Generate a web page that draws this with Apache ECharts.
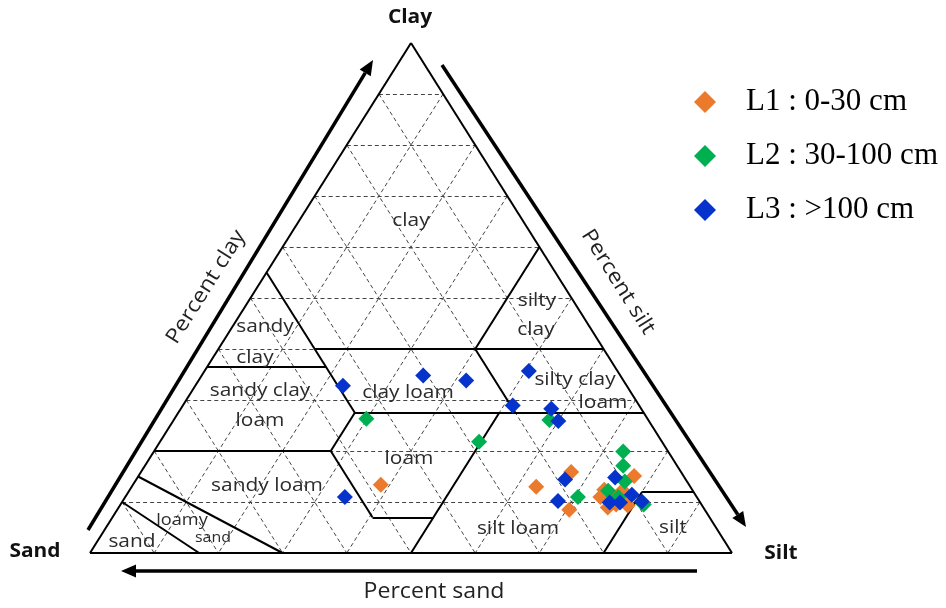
<!DOCTYPE html>
<html><head><meta charset="utf-8">
<script src="https://cdn.jsdelivr.net/npm/echarts@6/dist/echarts.min.js"></script>
<style>html,body{margin:0;padding:0;background:#fff}#c{width:946px;height:608px}</style>
</head><body><div id="c"></div>
<script>
// ---- Data (percent sand, silt, clay) ----
const seriesNames = ['L1 : 0-30 cm', 'L2 : 30-100 cm', 'L3 : >100 cm'];
const l1Sand = [48.0, 24.0, 17.1, 21.1, 7.7, 13.7, 11.5, 13.5, 15.0, 11.6, 14.9, 13.3, 10.8];
const l1Silt = [38.6, 63.0, 67.0, 70.4, 77.2, 73.9, 76.7, 75.5, 74.0, 79.1, 76.2, 77.2, 77.4];
const l1Clay = [13.4, 13.0, 15.9, 8.5, 15.1, 12.4, 11.8, 11.0, 11.0, 9.3, 8.9, 9.5, 11.8];

const l2Sand = [43.8, 28.5, 15.4, 18.5, 7.0, 8.4, 9.7, 13.2, 9.0, 12.2];
const l2Silt = [29.9, 49.7, 58.5, 70.5, 73.1, 74.5, 76.3, 74.6, 81.5, 76.8];
const l2Clay = [26.3, 21.8, 26.1, 11.0, 19.9, 17.1, 14.0, 12.2, 9.5, 11.0];

const l3Sand = [44.2, 30.7, 24.5, 13.8, 19.7, 14.0, 14.1, 54.8, 18.8, 22.0, 10.8, 14.1, 12.5, 9.9, 9.0];
const l3Silt = [23.0, 34.5, 41.7, 50.5, 51.4, 57.7, 60.0, 34.2, 66.8, 67.8, 74.4, 76.0, 77.6, 78.7, 80.9];
const l3Clay = [32.8, 34.8, 33.8, 35.7, 28.9, 28.3, 25.9, 11.0, 14.4, 10.2, 14.8, 9.9, 9.9, 11.4, 10.1];

// grid percentages (dashed lines)
const gridPercents = [10, 20, 30, 40, 50, 60, 70, 80, 90];

// texture class boundaries: [sand, silt, clay] -> [sand, silt, clay]
const classBoundaries = [
  [[45, 0, 55], [45, 27.5, 27.5]],
  [[45, 15, 40], [0, 60, 40]],
  [[20, 40, 40], [0, 40, 60]],
  [[63.5, 0, 36.5], [45, 18.5, 36.5]],
  [[20, 40, 40], [20, 52.5, 27.5]],
  [[45, 27.5, 27.5], [0, 72.5, 27.5]],
  [[45, 27.5, 27.5], [52.5, 27.5, 20]],
  [[80, 0, 20], [52.5, 27.5, 20]],
  [[52.5, 27.5, 20], [52.5, 40.5, 7]],
  [[52.5, 40.5, 7], [43, 50, 7]],
  [[50, 50, 0], [22.5, 50, 27.5]],
  [[20, 80, 0], [8, 80, 12]],
  [[8, 80, 12], [0, 88, 12]],
  [[85, 0, 15], [70, 30, 0]],
  [[90, 0, 10], [83, 17, 0]]
];
const outline = [[[100, 0, 0], [0, 100, 0]], [[0, 100, 0], [0, 0, 100]], [[0, 0, 100], [100, 0, 0]]];

// ---- ternary -> cartesian (x: silt + clay/2, y: clay) ----
function tern(p) { return [p[1] + p[2] / 2, p[2]]; }
function pts(sand, silt, clay) { return sand.map((s, i) => tern([s, silt[i], clay[i]])); }

const gridLines = [];
gridPercents.forEach(p => {
  gridLines.push({coords: [tern([100 - p, 0, p]), tern([0, 100 - p, p])]});
  gridLines.push({coords: [tern([p, 0, 100 - p]), tern([p, 100 - p, 0])]});
  gridLines.push({coords: [tern([0, p, 100 - p]), tern([100 - p, p, 0])]});
});
const boundaryLines = classBoundaries.map(s => ({coords: [tern(s[0]), tern(s[1])]}));
const outlineLines = outline.map(s => ({coords: [tern(s[0]), tern(s[1])]}));

// ---- decorations ----
const SANS = "'Open Sans', 'Noto Sans', sans-serif";
function label(text, x, y, size, opts) {
  opts = opts || {};
  return {type: 'text', x: x, y: y, z: 20, rotation: opts.rot || 0, scaleX: 1.1,
    style: {text: text, fontFamily: SANS, fontSize: size, fontWeight: opts.bold ? 'bold' : 'normal',
      fill: opts.color || '#2b2b2b', align: 'center', verticalAlign: 'middle'}};
}
function arrow(x1, y1, x2, y2) {
  const dx = x2 - x1, dy = y2 - y1, L = Math.hypot(dx, dy);
  const ux = dx / L, uy = dy / L, nx = -uy, ny = ux, hl = 15, hw = 6.5;
  const bx = x2 - ux * hl, by = y2 - uy * hl;
  return [
    {type: 'line', z: 20, shape: {x1: x1, y1: y1, x2: bx, y2: by}, style: {stroke: '#000', lineWidth: 3.5}},
    {type: 'polygon', z: 20, shape: {points: [[x2, y2], [bx + nx * hw, by + ny * hw], [bx - nx * hw, by - ny * hw]]}, style: {fill: '#000'}}
  ];
}

const graphics = [].concat(
  arrow(88, 530, 373, 60),
  arrow(442, 65, 746, 527),
  arrow(697, 571, 121, 571),
  [
    label('Clay', 410, 18, 19, {bold: true, color: '#111'}),
    label('Sand', 35, 552, 19, {bold: true, color: '#111'}),
    label('Silt', 781, 554, 19, {bold: true, color: '#111'}),
    label('Percent clay', 206, 287, 21, {rot: Math.atan2(510, 321), color: '#222'}),
    label('Percent silt', 618, 282, 21, {rot: -Math.atan2(510, 321), color: '#222'}),
    label('Percent sand', 434, 592, 21, {color: '#222'}),
    label('clay', 411, 221, 19),
    label('silty', 537, 301, 19),
    label('clay', 536, 330, 19),
    label('sandy', 265, 327, 19),
    label('clay', 255, 358, 19),
    label('sandy clay', 260, 391, 19),
    label('loam', 260, 421, 19),
    label('clay loam', 408, 393, 19),
    label('silty clay', 575, 380, 19),
    label('loam', 603, 403, 19),
    label('loam', 409, 459, 19),
    label('sandy loam', 267, 486, 19),
    label('loamy', 182, 520, 16.5),
    label('sand', 213, 538, 14.5),
    label('sand', 132, 542, 19),
    label('silt loam', 518, 529, 19),
    label('silt', 673, 528, 19)
  ]
);

const colors = ['#EC7A2C', '#00B050', '#0533CC'];
const chart = echarts.init(document.getElementById('c'));
chart.setOption({
  animation: false,
  color: colors,
  grid: {left: 90, top: 43, width: 642, height: 510},
  xAxis: {type: 'value', min: 0, max: 100, show: false},
  yAxis: {type: 'value', min: 0, max: 100, show: false},
  legend: {
    orient: 'vertical', left: 689, top: 81, itemGap: 22,
    itemWidth: 22, itemHeight: 22, icon: 'diamond',
    data: seriesNames,
    textStyle: {fontFamily: "'Liberation Serif', serif", fontSize: 31, color: '#000', lineHeight: 32, padding: [0, 0, 0, 25]}
  },
  graphic: graphics,
  series: [
    {type: 'lines', coordinateSystem: 'cartesian2d', silent: true, z: 1, data: gridLines,
      lineStyle: {color: '#444', width: 1, type: [4, 3], opacity: 1}},
    {type: 'lines', coordinateSystem: 'cartesian2d', silent: true, z: 2, data: boundaryLines,
      lineStyle: {color: '#000', width: 2, opacity: 1}},
    {type: 'lines', coordinateSystem: 'cartesian2d', silent: true, z: 3, data: outlineLines,
      lineStyle: {color: '#000', width: 2, opacity: 1}},
    {name: seriesNames[0], type: 'scatter', z: 5, symbol: 'diamond', symbolSize: 16, itemStyle: {opacity: 1}, data: pts(l1Sand, l1Silt, l1Clay)},
    {name: seriesNames[1], type: 'scatter', z: 5, symbol: 'diamond', symbolSize: 16, itemStyle: {opacity: 1}, data: pts(l2Sand, l2Silt, l2Clay)},
    {name: seriesNames[2], type: 'scatter', z: 5, symbol: 'diamond', symbolSize: 16, itemStyle: {opacity: 1}, data: pts(l3Sand, l3Silt, l3Clay)}
  ]
});
</script></body></html>
